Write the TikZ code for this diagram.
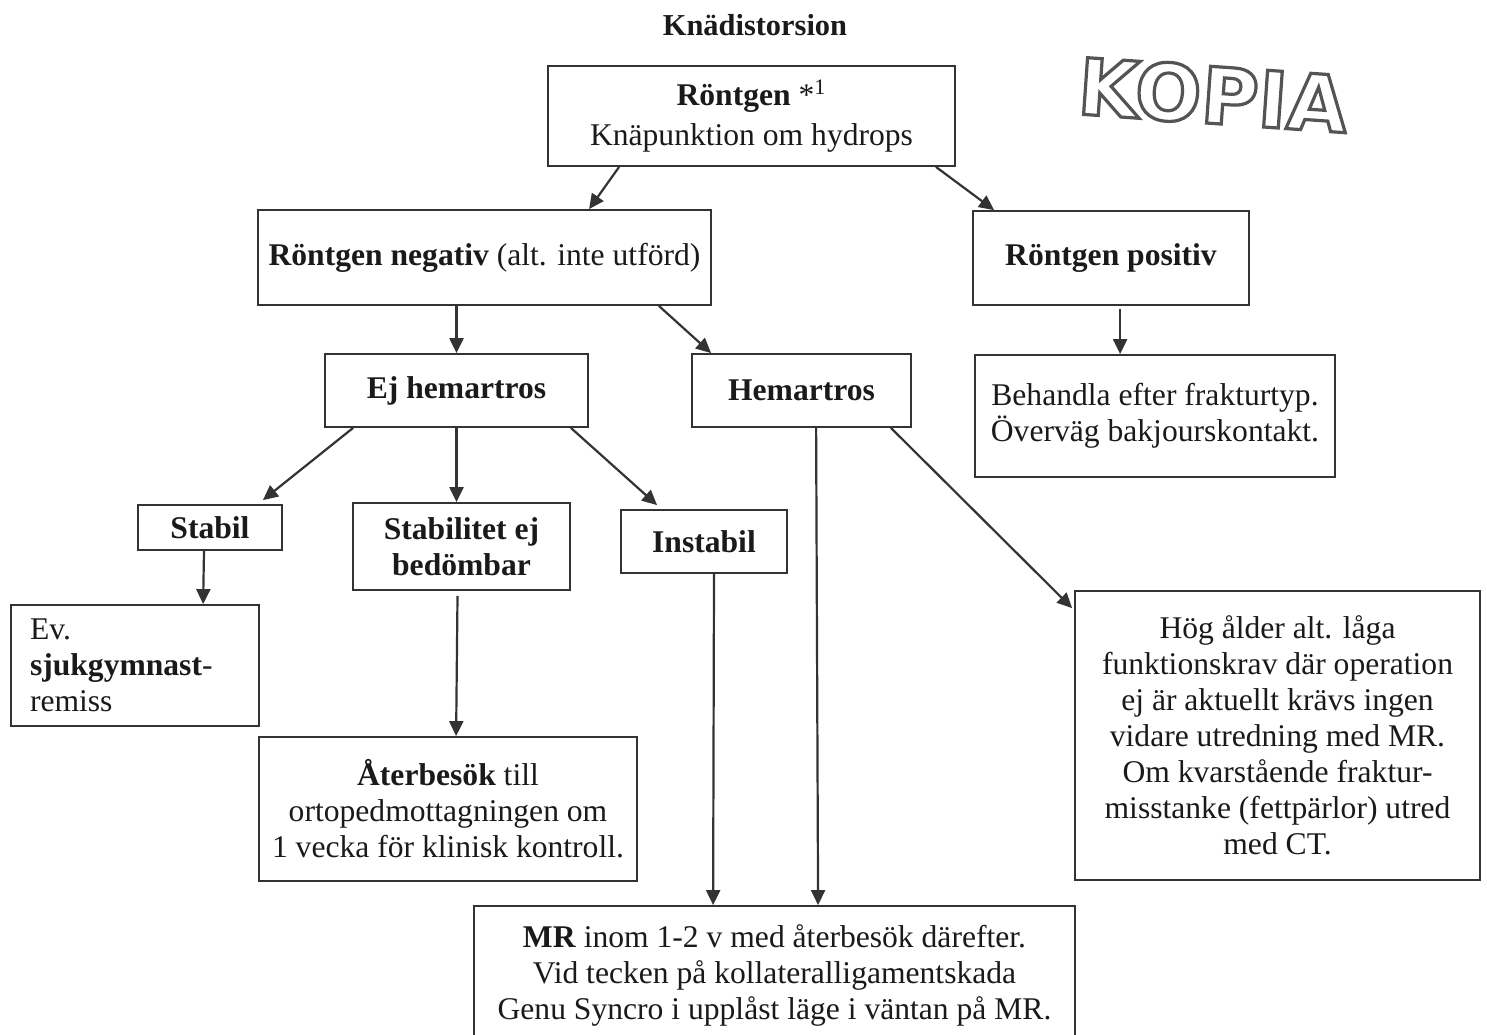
\documentclass[tikz,border=0pt]{standalone}
\usepackage{fontspec}
\setmainfont{Liberation Serif}
\newfontfamily\stampfont{DejaVu Sans}
\usetikzlibrary{arrows.meta,calc}
\definecolor{ln}{HTML}{333333}
\definecolor{tx}{HTML}{1A1A1A}
\newcommand{\outlinedtext}[1]{{\color{white}\special{pdf:literal direct 0.33 G 1.6 w 2 Tr}#1\special{pdf:literal direct 0 Tr}}}
\begin{document}
\begin{tikzpicture}[x=0.5pt,y=-0.5pt,
  box/.style 2 args={draw=ln, line width=0.9pt, inner sep=0pt, text=tx, align=center,
    minimum width=#1*0.5pt, minimum height=#2*0.5pt,
    font=\fontsize{15.8}{18}\selectfont},
  arr/.style={draw=ln, line width=1.1pt, -{Triangle[length=7.5pt,width=7pt]}},
]
\path[use as bounding box, clip] (0,0) rectangle (1487,1034);
\fill[white] (0,0) rectangle (1487,1034);

% title
\node[text=tx, font=\bfseries\fontsize{15.2}{18}\selectfont] (title) at (755,25) {Knädistorsion};

% stamp
\node[rotate=-4, font=\stampfont\bfseries\fontsize{39}{39}\selectfont] (stamp) at (1213,95) {\outlinedtext{KOPIA}};

% boxes
\node[box={407}{100}, font=\fontsize{15.8}{20}\selectfont] (b1) at (751.5,116) {\textbf{Röntgen} *\textsuperscript{1}\\ Knäpunktion om hydrops};
\node[box={453}{95}] (neg) at (484.5,257.5) {\textbf{Röntgen negativ} (alt. inte utförd)};
\node[box={276}{94}] (pos) at (1111,258) {\textbf{Röntgen positiv}};
\node[box={263}{73}] (ej) at (456.5,390.5) {\textbf{Ej hemartros}};
\node[box={219}{73}] (hem) at (801.5,390.5) {\textbf{Hemartros}};
\node[box={360}{122}] (beh) at (1155,416) {Behandla efter frakturtyp.\\ Överväg bakjourskontakt.};
\node[box={144}{45}] (stab) at (210,527.5) {\textbf{Stabil}};
\node[box={217}{87}] (stb) at (461.5,546.5) {\textbf{Stabilitet ej}\\ \textbf{bedömbar}};
\node[box={166}{63}] (inst) at (704,541.5) {\textbf{Instabil}};
\node[box={248}{121}, text width=105pt, align=left] (ev) at (135,665.5) {Ev.\\ \textbf{sjukgymnast}-\\ remiss};
\node[box={378}{144}] (ab) at (448,809) {\textbf{Återbesök} till\\ ortopedmottagningen om\\ 1 vecka för klinisk kontroll.};
\node[box={405}{289}] (hog) at (1277.5,735.5) {Hög ålder alt. låga\\ funktionskrav där operation\\ ej är aktuellt krävs ingen\\ vidare utredning med MR.\\ Om kvarstående fraktur-\\ misstanke (fettpärlor) utred\\ med CT.};
\node[box={601}{138}] (mr) at (774.5,975) {\textbf{MR} inom 1-2 v med återbesök därefter.\\ Vid tecken på kollateralligamentskada\\ Genu Syncro i upplåst läge i väntan på MR.};

% connectors
\draw[arr] ($(b1.south west)+(72,0)$) -- ($(neg.north west)+(332,0)$);
\draw[arr] ($(b1.south east)+(-20,0)$) -- ($(pos.north west)+(22,0)$);
\draw[arr] (ej.north |- neg.south) -- (ej.north);
\draw[arr] ($(neg.south east)+(-53,0)$) -- ($(hem.north west)+(20,0)$);
\draw[arr] ($(pos.south west)+(148,3)$) -- ($(beh.north west)+(146,0)$);
\draw[arr] ($(ej.south west)+(29,0)$) -- ($(stab.north east)+(-20,-4)$);
\draw[arr] (ej.south) -- (ej.south |- stb.north);
\draw[arr] ($(ej.south east)+(-18,0)$) -- ($(inst.north west)+(37,-4)$);
\draw[arr] ($(hem.south east)+(-21,0)$) -- ($(hog.north west)+(-2,18)$);
\draw[arr] ($(hem.south west)+(125,0)$) -- ($(mr.north west)+(345,0)$);
\draw[arr] ($(stab.south)+(-6,0)$) -- ($(ev.north west)+(193,0)$);
\draw[arr] ($(stb.south)+(-4,5)$) -- ($(ab.north west)+(198,0)$);
\draw[arr] ($(inst.south)+(10,0)$) -- ($(mr.north west)+(240,0)$);
\end{tikzpicture}
\end{document}
